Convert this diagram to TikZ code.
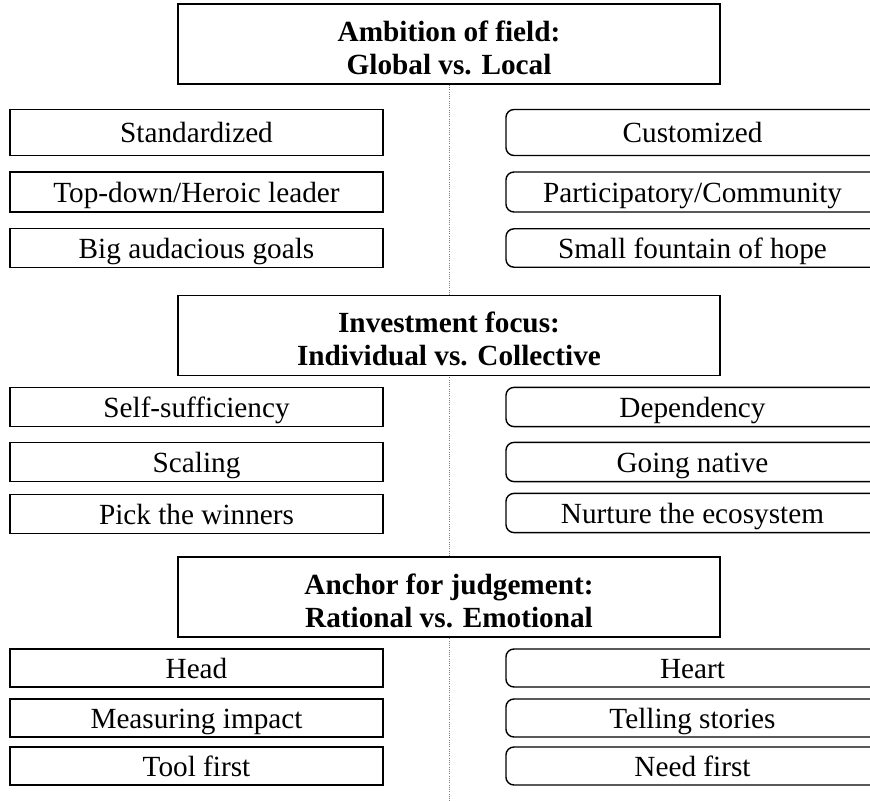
\documentclass[tikz,border=0pt]{standalone}
\usepackage{fontspec}
\setmainfont{Liberation Serif}
\usetikzlibrary{backgrounds}

\newcommand{\headstrut}{\rule{0pt}{20pt}}

\tikzset{
  headbox/.style={draw, line width=1.1pt, fill=white, inner sep=0pt,
    minimum width=13.55cm, minimum height=2cm, align=center,
    font=\bfseries\fontsize{20.8}{23.6}\selectfont},
  leftbox/.style={draw, line width=1pt, inner sep=0pt,
    minimum width=9.325cm, text height=0.6cm, text depth=0.1cm,
    font=\fontsize{20.8}{24}\selectfont},
  rightbox/.style={leftbox, rounded corners=0.2cm},
  midline/.style={gray, densely dotted, line width=0.6pt},
}

\begin{document}
\begin{tikzpicture}[x=0.025cm, y=-0.025cm]
  \useasboundingbox (0,0) rectangle (870,801);
  \clip (0,0) rectangle (870,801);
  % first block
  \node[headbox] (amb) at (449,44) {\headstrut Ambition of field:\\Global vs. Local};
  \node[leftbox, minimum height=1.15cm] (std) at (196.5,132.5) {Standardized};
  \node[leftbox, minimum height=1cm] (top) at (196.5,192) {Top-down/Heroic leader};
  \node[leftbox, minimum height=0.96cm] (big) at (196.5,248) {Big audacious goals};
  \node[rightbox, minimum height=1.15cm] (cust) at (692.5,132.5) {Customized};
  \node[rightbox, minimum height=1cm] (part) at (692.5,192) {Participatory/Community};
  \node[rightbox, minimum height=0.96cm] (small) at (692.5,248) {Small fountain of hope};
  % second block
  \node[headbox] (inv) at (449,335.5) {\headstrut Investment focus:\\Individual vs. Collective};
  \node[leftbox, minimum height=0.98cm] (self) at (196.5,407) {Self-sufficiency};
  \node[leftbox, minimum height=0.98cm] (scal) at (196.5,462) {Scaling};
  \node[leftbox, minimum height=0.98cm] (pick) at (196.5,514) {Pick the winners};
  \node[rightbox, minimum height=0.98cm] (dep) at (692.5,407) {Dependency};
  \node[rightbox, minimum height=0.98cm] (nat) at (692.5,462) {Going native};
  \node[rightbox, minimum height=0.98cm] (eco) at (692.5,513) {Nurture the ecosystem};
  % third block
  \node[headbox] (anc) at (449,597) {\headstrut Anchor for judgement:\\Rational vs. Emotional};
  \node[leftbox, minimum height=0.95cm] (head) at (196.5,668) {Head};
  \node[leftbox, minimum height=0.95cm] (meas) at (196.5,718) {Measuring impact};
  \node[leftbox, minimum height=0.95cm] (tool) at (196.5,766) {Tool first};
  \node[rightbox, minimum height=0.95cm] (heart) at (692.5,668) {Heart};
  \node[rightbox, minimum height=0.95cm] (tell) at (692.5,718) {Telling stories};
  \node[rightbox, minimum height=0.95cm] (need) at (692.5,766) {Need first};
  % dotted divider behind the headers
  \coordinate (bot) at (449,801);
  \begin{scope}[on background layer]
    \draw[midline] (amb.south) -- (bot);
  \end{scope}
\end{tikzpicture}
\end{document}
